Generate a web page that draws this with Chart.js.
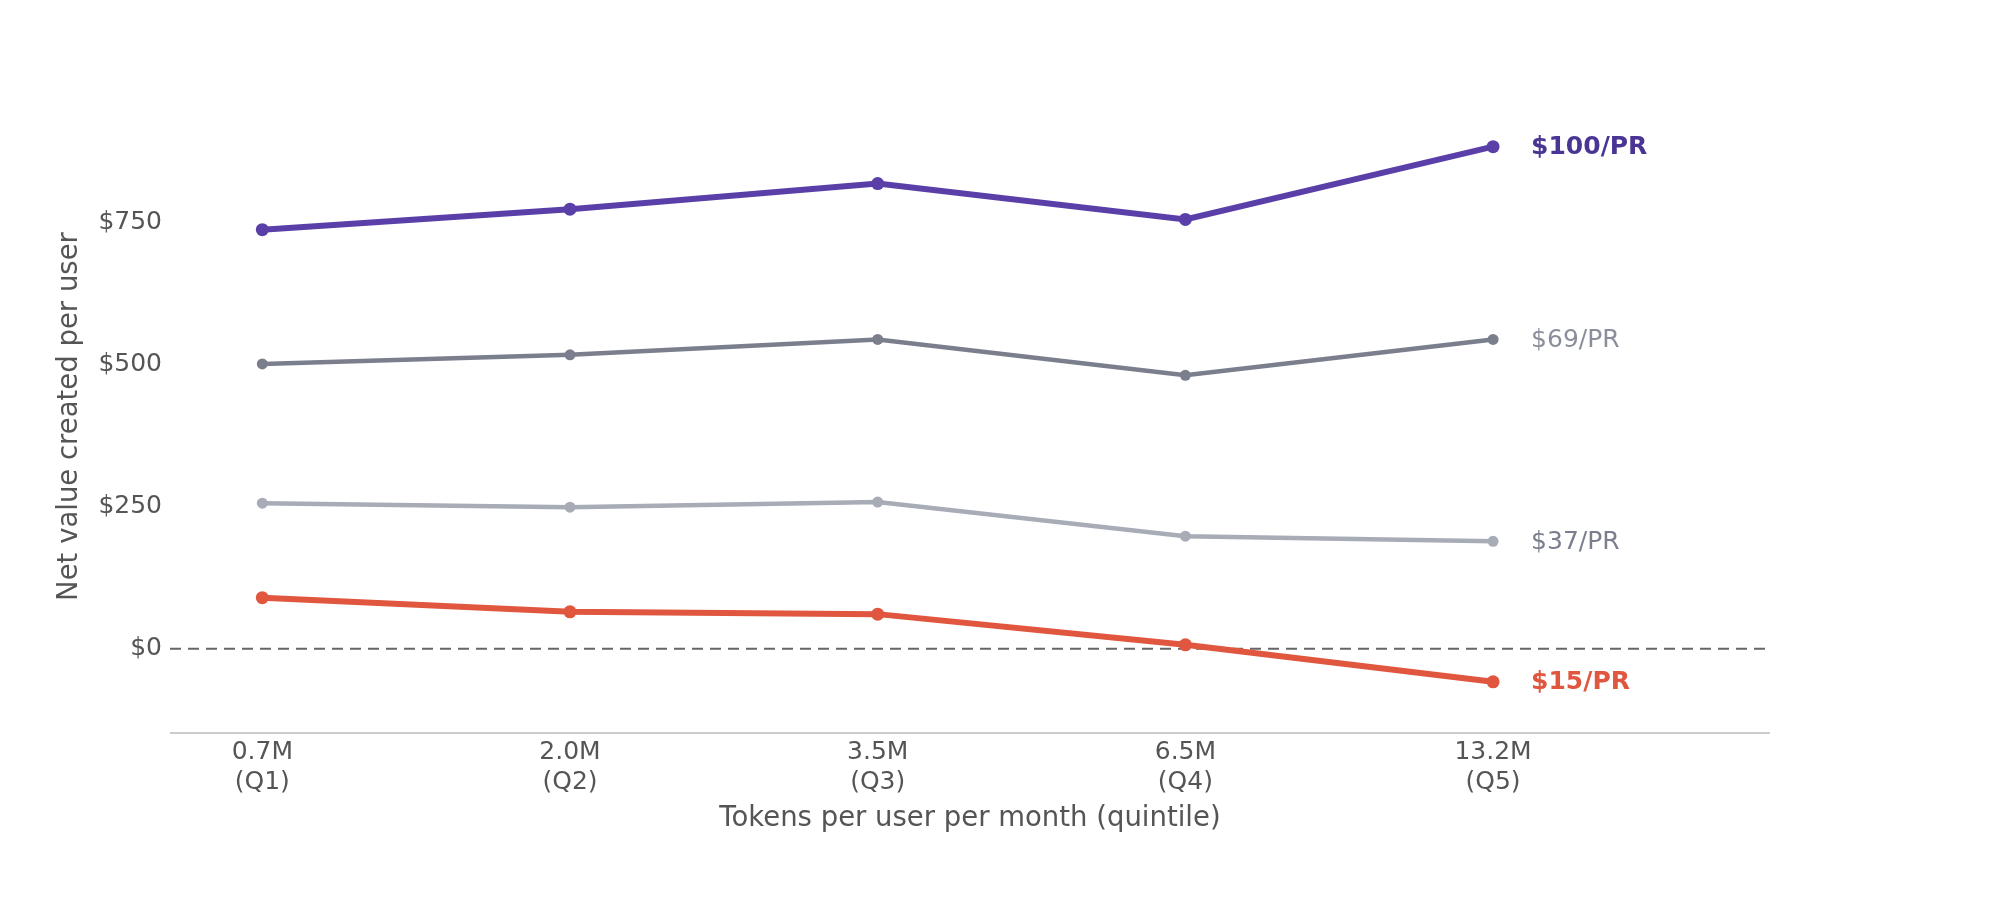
<!DOCTYPE html>
<html>
<head>
<meta charset="utf-8">
<script src="https://cdn.jsdelivr.net/npm/chart.js@4.4.1/dist/chart.umd.min.js"></script>
<style>
  html, body { margin: 0; padding: 0; background: #ffffff; }
  #wrap { width: 1999px; height: 906px; position: relative; }
</style>
</head>
<body>
<div id="wrap"><canvas id="c" width="1999" height="906"></canvas></div>
<script>
// ---- data ----
const tokenLabels = ['0.7M', '2.0M', '3.5M', '6.5M', '13.2M'];
const quintileLabels = ['(Q1)', '(Q2)', '(Q3)', '(Q4)', '(Q5)'];
const yTickValues = [0, 250, 500, 750];
const value100 = [737, 773, 818, 755, 883];
const value69 = [501, 517, 544, 481, 544];
const value37 = [256, 249, 258, 198, 189];
const value15 = [90, 65, 61, 7, -58];
const seriesLabels = ['$100/PR', '$69/PR', '$37/PR', '$15/PR'];

const FONT = '"DejaVu Sans", Verdana, sans-serif';
const TXT = '#555555';

const lineColors = ['#5b3fa9', '#7b7f8d', '#a8acb7', '#e0563f'];
const labelColors = ['#4a3594', '#8a8e9b', '#7b7f8d', '#e0563f'];
const labelWeights = ['bold', 'normal', 'normal', 'bold'];
const lineWidths = [6, 4.5, 4.5, 6];
const pointRadii = [6.5, 5.5, 5.5, 6.5];

const allSeries = [value100, value69, value37, value15];

function toPoints(arr) { return arr.map((v, i) => ({ x: i, y: v })); }

const datasets = allSeries.map((arr, k) => ({
  label: seriesLabels[k],
  data: toPoints(arr),
  borderColor: lineColors[k],
  backgroundColor: lineColors[k],
  borderWidth: lineWidths[k],
  pointRadius: pointRadii[k],
  pointHoverRadius: pointRadii[k],
  pointBorderWidth: 0,
  pointBackgroundColor: lineColors[k],
  tension: 0,
  order: 4 - k
}));

const overlayPlugin = {
  id: 'overlay',
  beforeDatasetsDraw(chart) {
    const { ctx, chartArea } = chart;
    const y = chart.scales.y.getPixelForValue(0);
    ctx.save();
    ctx.strokeStyle = '#666666';
    ctx.lineWidth = 2;
    ctx.setLineDash([11, 7]);
    ctx.beginPath();
    ctx.moveTo(chartArea.left, y);
    ctx.lineTo(chartArea.right, y);
    ctx.stroke();
    ctx.setLineDash([]);
    ctx.strokeStyle = '#cccccc';
    ctx.lineWidth = 2;
    ctx.beginPath();
    ctx.moveTo(chartArea.left, chartArea.bottom);
    ctx.lineTo(chartArea.right, chartArea.bottom);
    ctx.stroke();
    ctx.restore();
  },
  afterDatasetsDraw(chart) {
    const { ctx } = chart;
    const xs = chart.scales.x, ys = chart.scales.y;
    ctx.save();
    ctx.textAlign = 'left';
    ctx.textBaseline = 'middle';
    allSeries.forEach((arr, k) => {
      const last = arr.length - 1;
      const px = xs.getPixelForValue(last) + 38;
      const py = ys.getPixelForValue(arr[last]) + 1;
      ctx.font = labelWeights[k] + ' 25px ' + FONT;
      ctx.fillStyle = labelColors[k];
      ctx.fillText(seriesLabels[k], px, py);
    });
    ctx.restore();
  }
};

new Chart(document.getElementById('c'), {
  type: 'line',
  data: { datasets },
  plugins: [overlayPlugin],
  options: {
    responsive: false,
    animation: false,
    events: [],
    layout: { padding: { left: 0, right: 229, top: 100, bottom: 0 } },
    plugins: { legend: { display: false }, tooltip: { enabled: false } },
    scales: {
      x: {
        type: 'linear',
        min: -0.3,
        max: 4.9,
        afterBuildTicks: (s) => { s.ticks = tokenLabels.map((_, i) => ({ value: i })); },
        afterFit: (s) => { s.height = 173; },
        grid: { display: false, drawTicks: false },
        border: { display: false },
        ticks: {
          autoSkip: false,
          maxRotation: 0,
          padding: 4,
          color: TXT,
          font: { family: FONT, size: 25, lineHeight: 1.2 },
          callback: (v) => { const i = Math.round(v); return [tokenLabels[i], quintileLabels[i]]; }
        },
        title: {
          display: true,
          text: 'Tokens per user per month (quintile)',
          color: TXT,
          font: { family: FONT, size: 27.5, lineHeight: 1.2 },
          padding: { top: 0, bottom: 71 }
        }
      },
      y: {
        min: -148,
        max: 965,
        afterBuildTicks: (s) => { s.ticks = yTickValues.map(v => ({ value: v })); },
        afterFit: (s) => { s.width = 170; },
        grid: { display: false, drawTicks: false },
        border: { display: false },
        ticks: {
          padding: 8,
          color: TXT,
          font: { family: FONT, size: 25 },
          callback: (v) => '$' + v
        },
        title: {
          display: true,
          text: 'Net value created per user',
          color: TXT,
          font: { family: FONT, size: 27.5, lineHeight: 1.2 },
          padding: { top: 53.5, bottom: 0 }
        }
      }
    }
  }
});
</script>
</body>
</html>
